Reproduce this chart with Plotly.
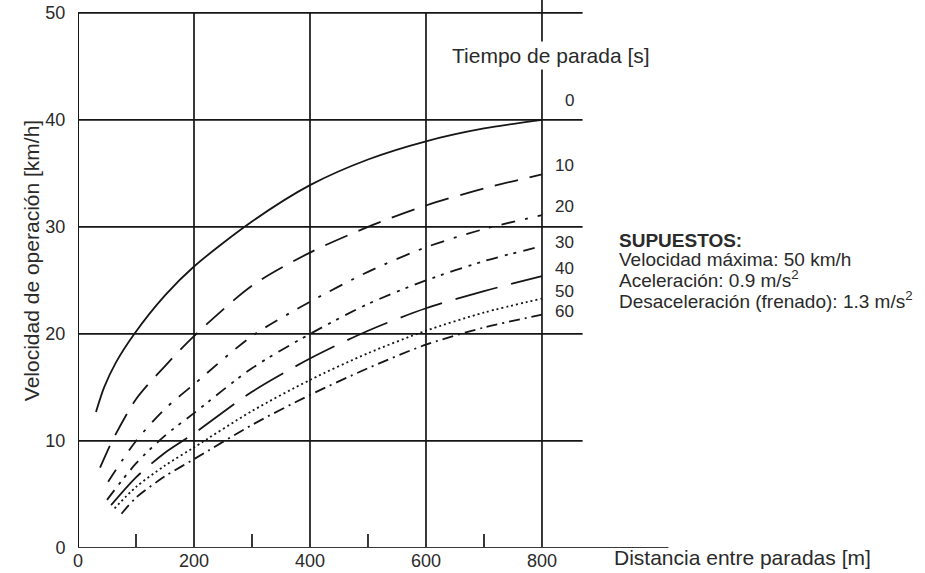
import plotly.graph_objects as go

# Distance between stops [m] and operating speed [km/h] for each stop time [s]
stop_times = [0, 10, 20, 30, 40, 50, 60]

dist_0 = [31, 45, 65, 97, 150, 200, 300, 400, 500, 600, 700, 800]
speed_0 = [12.7, 15.0, 17.3, 20.0, 23.6, 26.3, 30.5, 33.9, 36.3, 38.0, 39.2, 40.0]

dist_10 = [38, 59, 100, 150, 200, 300, 400, 500, 600, 700, 800]
speed_10 = [7.5, 10.0, 13.9, 17.0, 19.8, 24.5, 27.6, 30.0, 32.0, 33.6, 34.9]

dist_20 = [52, 100, 150, 200, 300, 400, 500, 600, 700, 800]
speed_20 = [6.2, 10.0, 13.0, 15.3, 19.8, 23.0, 25.8, 28.1, 29.8, 31.1]

dist_30 = [50, 100, 150, 200, 300, 400, 500, 600, 700, 800]
speed_30 = [4.5, 7.9, 10.5, 12.6, 16.8, 20.0, 22.8, 25.0, 26.8, 28.2]

dist_40 = [57, 100, 150, 200, 300, 400, 500, 600, 700, 800]
speed_40 = [4.0, 6.6, 8.9, 10.7, 14.6, 17.7, 20.3, 22.4, 24.0, 25.4]

dist_50 = [63, 100, 150, 200, 300, 400, 500, 600, 700, 800]
speed_50 = [3.7, 5.7, 7.7, 9.4, 12.8, 15.7, 18.2, 20.3, 22.0, 23.3]

dist_60 = [75, 100, 150, 200, 300, 400, 500, 600, 700, 800]
speed_60 = [3.2, 4.7, 6.7, 8.3, 11.5, 14.3, 16.8, 19.0, 20.6, 21.8]

# Heights of the stop-time tags at the right end of the curves
tag_speeds = [41.8, 35.7, 31.9, 28.5, 26.1, 23.95, 22.1]

x_ticks = [0, 200, 400, 600, 800]
y_ticks = [0, 10, 20, 30, 40, 50]
x_minor = [100, 300, 500, 700]
x_grid = [200, 400, 600, 800]
y_grid = [10, 20, 30, 40, 50]

notes = [
    "<b>SUPUESTOS:</b>",
    "Velocidad máxima: 50 km/h",
    "Aceleración: 0.9 m/s<sup>2</sup>",
    "Desaceleración (frenado): 1.3 m/s<sup>2</sup>",
]

series = [
    (dist_0, speed_0, "solid"),
    (dist_10, speed_10, "24px,12px"),
    (dist_20, speed_20, "14px,10px,3px,10px"),
    (dist_30, speed_30, "12px,7px,3px,6px,3px,7px"),
    (dist_40, speed_40, "44px,14px"),
    (dist_50, speed_50, "2px,3px"),
    (dist_60, speed_60, "11px,5px,2px,5px"),
]

INK = "#161616"
TXT = "#2a2a2a"
FONT = "Liberation Sans, Arial, sans-serif"
X_MAX = 1019
Y_MAX = 51.2
GRID_END = 870

fig = go.Figure()

for xs, ys, dash in series:
    fig.add_trace(go.Scatter(
        x=xs, y=ys, mode="lines",
        line=dict(color=INK, width=1.8, dash=dash, shape="spline", smoothing=0.8),
        hoverinfo="skip",
    ))

shapes = []
line_style = dict(color=INK, width=1.7)
for yv in y_grid:
    shapes.append(dict(type="line", xref="x", yref="y", x0=0, x1=GRID_END,
                       y0=yv, y1=yv, line=line_style))
for xv in x_grid:
    top = Y_MAX if xv == 800 else 50
    shapes.append(dict(type="line", xref="x", yref="y", x0=xv, x1=xv,
                       y0=0, y1=top, line=line_style))
for xv in x_minor:
    shapes.append(dict(type="line", xref="x", yref="y", x0=xv, x1=xv,
                       y0=0, y1=1.3, line=line_style))
# axis lines
shapes.append(dict(type="line", xref="x", yref="y", x0=0, x1=0, y0=0, y1=50,
                   line=dict(color=INK, width=2)))
shapes.append(dict(type="line", xref="x", yref="y", x0=0, x1=X_MAX - 1, y0=0, y1=0,
                   line=dict(color="#3a3a3a", width=2.2)))

annotations = []
for t, yv in zip(stop_times, tag_speeds):
    annotations.append(dict(x=858, y=yv, xref="x", yref="y", text=str(t),
                            showarrow=False, xanchor="right", yanchor="middle",
                            font=dict(family=FONT, size=17, color=TXT)))

annotations.append(dict(x=991, y=46.05, xref="x", yref="y", text="Tiempo de parada [s]",
                        showarrow=False, xanchor="right", yanchor="middle",
                        bgcolor="white", borderpad=2,
                        font=dict(family=FONT, size=21, color=TXT)))

note_y = [28.75, 26.95, 25.1, 23.15]
for txt, yv in zip(notes, note_y):
    annotations.append(dict(x=929, y=yv, xref="x", yref="y", text=txt,
                            showarrow=False, xanchor="left", yanchor="middle",
                            font=dict(family=FONT, size=19, color=TXT)))

annotations.append(dict(x=920, y=-0.0165, xref="x", yref="paper",
                        text="Distancia entre paradas [m]", showarrow=False,
                        xanchor="left", yanchor="middle",
                        font=dict(family=FONT, size=21, color=TXT)))

annotations.append(dict(x=-0.0795, y=26.8, xref="paper", yref="y",
                        text="Velocidad de operación [km/h]", showarrow=False,
                        textangle=-90, xanchor="center", yanchor="middle",
                        font=dict(family=FONT, size=21, color=TXT)))

fig.update_layout(
    width=925, height=573,
    margin=dict(l=78, r=256, t=0, b=25),
    paper_bgcolor="white", plot_bgcolor="white",
    showlegend=False,
    shapes=shapes,
    annotations=annotations,
    xaxis=dict(range=[0, X_MAX], tickvals=x_ticks, ticktext=[str(v) for v in x_ticks],
               showgrid=False, zeroline=False, showline=False, ticks="",
               automargin=False, fixedrange=True,
               tickfont=dict(family=FONT, size=18, color=TXT)),
    yaxis=dict(range=[0, Y_MAX], tickvals=y_ticks, ticktext=[str(v) for v in y_ticks],
               showgrid=False, zeroline=False, showline=False,
               ticks="outside", ticklen=8, tickcolor="rgba(0,0,0,0)",
               automargin=False, fixedrange=True,
               tickfont=dict(family=FONT, size=18, color=TXT)),
)

fig.write_html("out.html")
